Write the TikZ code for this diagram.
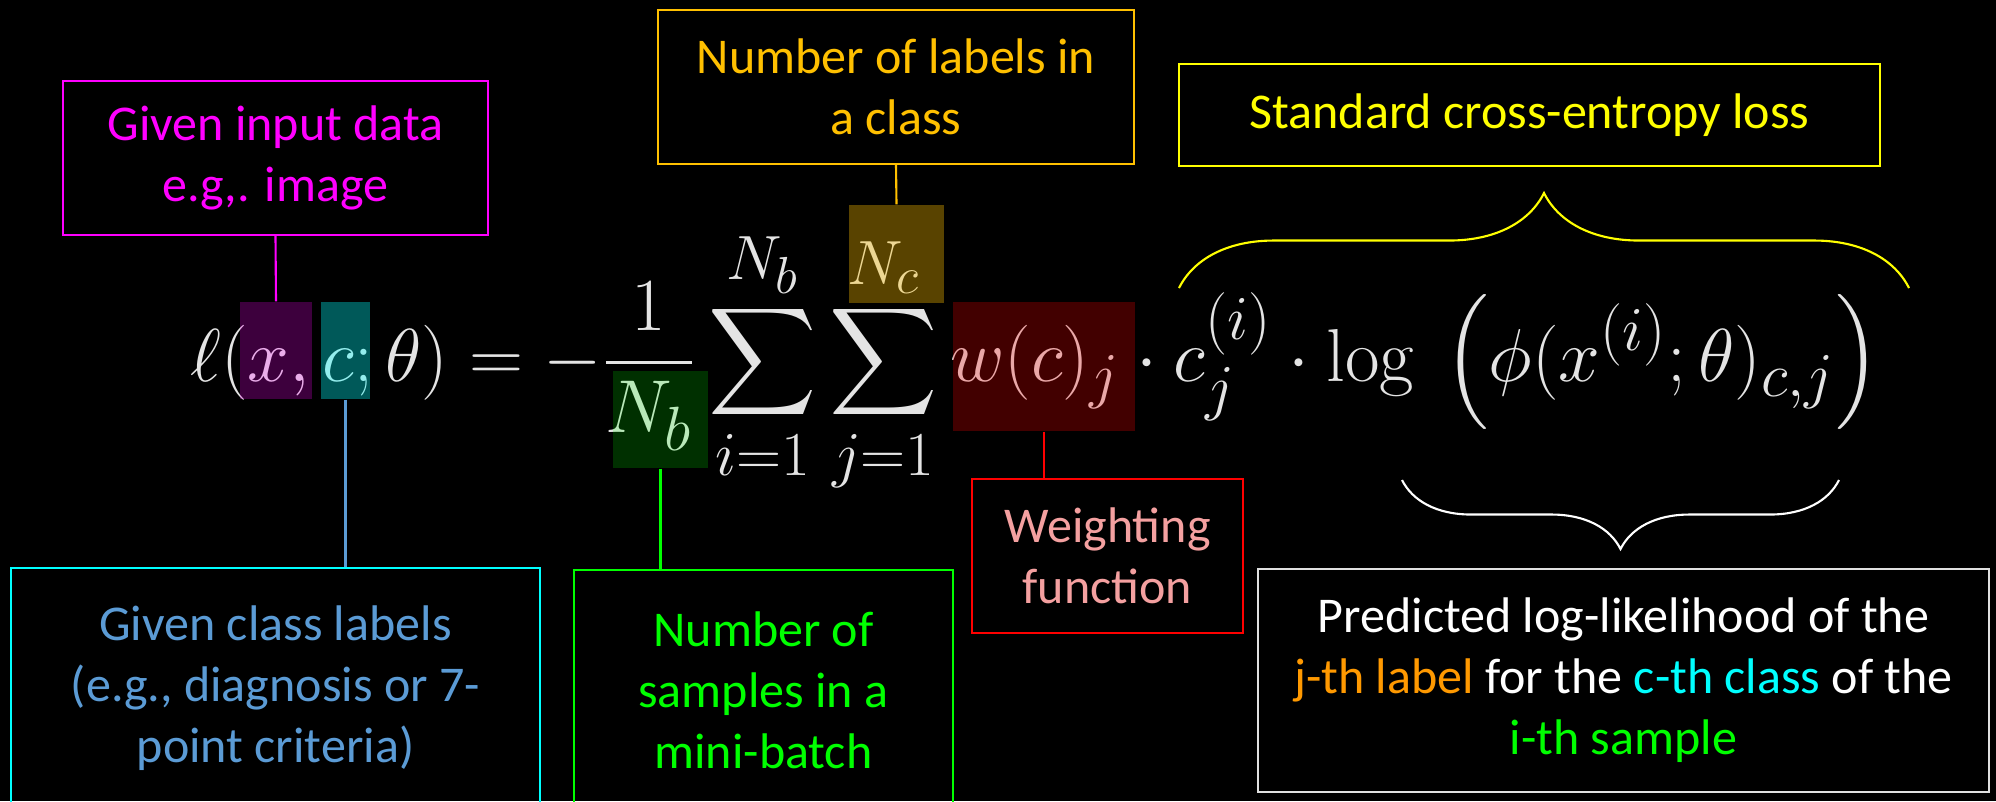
\documentclass[tikz,border=0pt]{standalone}
\usepackage{exscale}
\usepackage[no-math]{fontspec}
\setmainfont{Carlito}
\usetikzlibrary{decorations.pathreplacing}
\newcommand{\pu}{0.3317pt}
\definecolor{cemag}{HTML}{FF00FF}
\definecolor{ceorange}{HTML}{FFC000}
\definecolor{ceyellow}{HTML}{FFFF00}
\definecolor{cecyan}{HTML}{00FFFF}
\definecolor{ceblue}{HTML}{5B9BD5}
\definecolor{cegreen}{HTML}{00FF00}
\definecolor{cered}{HTML}{FF0000}
\definecolor{cepink}{HTML}{F4A0A0}
\definecolor{cejlab}{HTML}{FF9900}
\definecolor{ceframe}{HTML}{E0E0E0}
\definecolor{ceeq}{HTML}{E4E4E4}
\tikzset{
  bx/.style={draw, line width=0.7pt, align=center, inner sep=0pt, font=\fontsize{16.6}{20.2}\selectfont},
  sz/.style 2 args={minimum width=#1*\pu, minimum height=#2*\pu},
  hl/.style={inner sep=0pt, draw=none},
  tie/.style={line width=0.7pt},
  brc/.style={decorate, decoration={brace, amplitude=#1}, line width=0.7pt},
}
\begin{document}
\begin{tikzpicture}[x=\pu, y=-\pu]
  \fill[black] (0,0) rectangle (1996,801);
  \useasboundingbox (0,0) rectangle (1996,801);
  \clip (0,0) rectangle (1996,801);
  \node[anchor=base west, inner sep=0pt, text=ceeq, font=\Huge] (eq) at (190,381)
    {$\displaystyle \ell(x,c;\theta) = -\frac{1}{N_b}\sum_{i=1}^{N_b}\sum_{j=1}^{N_c} w(c)_j \cdot c_j^{(i)} \cdot \log\mkern4mu\left(\phi(x^{(i)};\theta)_{c,j}\right)$};
  \node[hl, sz={72}{97}, fill=cemag, fill opacity=.24] (hx) at (276,350.5) {};
  \node[hl, sz={49}{97}, fill=cecyan, fill opacity=.35] (hc) at (345.5,350.5) {};
  \node[hl, sz={95}{97}, fill=cegreen, fill opacity=.19] (hnb) at (660.5,419.5) {};
  \node[hl, sz={95}{98}, fill=ceorange, fill opacity=.35] (hnc) at (896.5,254) {};
  \node[hl, sz={182}{129}, fill=cered, fill opacity=.26] (hw) at (1044,366.5) {};

  \node[bx, draw=cemag, text=cemag, sz={425}{154}] (inbox) at (275.5,158) {Given input data\\e.g,. image};
  \node[bx, draw=ceorange, text=ceorange, sz={476}{154}] (ncbox) at (896,87) {Number of labels in\\a class};
  \node[bx, draw=ceyellow, text=ceyellow, sz={701}{102}] (cebox) at (1529.5,115) {Standard cross-entropy loss};
  \node[bx, draw=cecyan, text=ceblue, sz={529}{240}] (clbox) at (275.5,688) {Given class labels\\(e.g., diagnosis or 7-\\point criteria)};
  \node[bx, draw=cegreen, text=cegreen, sz={379}{240}] (nbbox) at (763.5,690) {Number of\\samples in a\\mini-batch};
  \node[bx, draw=cered, text=cepink, sz={271}{154}] (wtbox) at (1107.5,556) {Weighting\\function};
  \node[bx, draw=ceframe, text=white, sz={731}{223}] (llbox) at (1623.5,680.5)
    {Predicted log-likelihood of the\\\textcolor{cejlab}{j-th label} for the \textcolor{cecyan}{c-th class} of the\\\textcolor{cegreen}{i-th sample}};

  \draw[tie, cemag] (inbox.south) -- (hx.north);
  \draw[tie, ceblue] (hc.south) -- (hc.south |- clbox.north);
  \draw[tie, cegreen] (hnb.south) -- (hnb.south |- nbbox.north);
  \draw[tie, ceorange] (ncbox.south) -- (hnc.north);
  \draw[tie, cered] (hw.south) -- (hw.south |- wtbox.north);

  \draw[brc=31.5pt, ceyellow] (1179,288) -- (1909,288);
  \draw[brc=22.9pt, white] (1839,480) -- (1402,480);
\end{tikzpicture}
\end{document}
